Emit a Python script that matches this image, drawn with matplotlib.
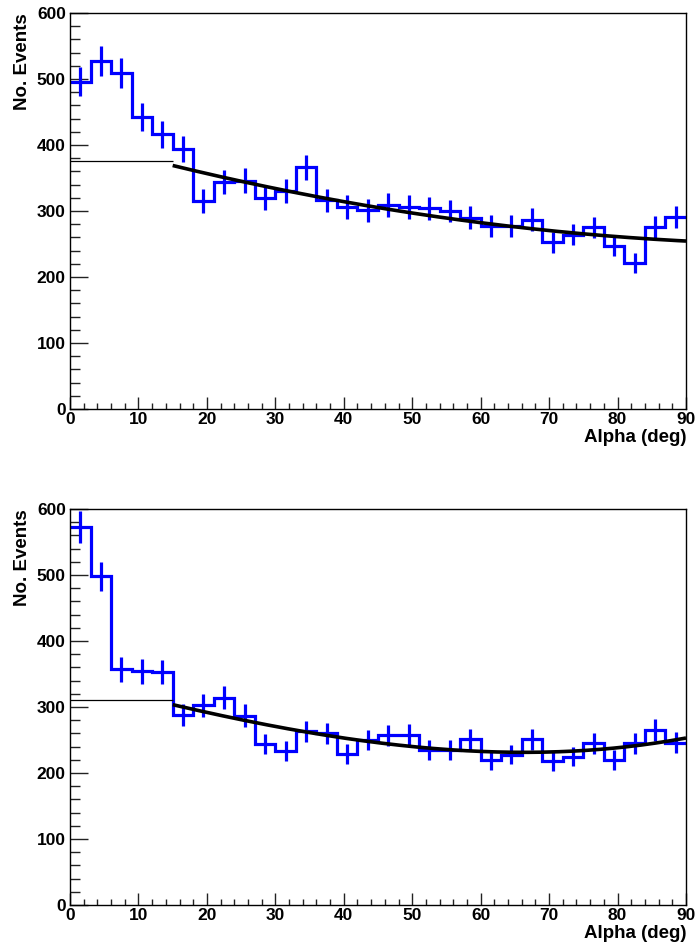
import numpy as np
import matplotlib
matplotlib.use("Agg")
import matplotlib.pyplot as plt
from matplotlib.ticker import MultipleLocator

# Binning: 30 bins of 3 degrees over 0-90
bin_edges = np.arange(0, 91, 3)

# Event counts per alpha bin
top_counts = [496, 527, 509, 443, 416, 394, 315, 344, 346, 320,
              330, 366, 316, 306, 301, 309, 306, 304, 300, 290,
              278, 278, 287, 253, 264, 275, 247, 221, 276, 291]
bottom_counts = [573, 498, 357, 354, 353, 288, 303, 314, 287, 244,
                 233, 263, 260, 229, 250, 257, 258, 235, 235, 251,
                 220, 228, 251, 218, 225, 245, 220, 245, 265, 246]

# Background fit (15-90 deg), sampled along the fitted curve
top_fit_x = [15, 20, 30, 40, 50, 60, 75, 85, 90]
top_fit_y = [367, 359, 334, 314, 299, 279, 266, 259, 253.5]
bottom_fit_x = [15, 20, 25, 30, 35, 40, 45, 55, 63, 72, 79.5, 90]
bottom_fit_y = [302, 292, 282, 272, 263, 253, 243, 234, 231, 234, 240, 251.5]

# Background level extrapolated into the signal region (0-15 deg)
top_flat = 376
bottom_flat = 311
fit_start = 15

plt.rcParams['font.family'] = ['Liberation Sans', 'DejaVu Sans']

fig = plt.figure(figsize=(6.96, 9.47), dpi=100)
W, H = 696.0, 947.0
ax_top = fig.add_axes([70 / W, 1 - 409 / H, 616 / W, 396 / H])
ax_bot = fig.add_axes([70 / W, 1 - 905 / H, 616 / W, 396 / H])

blue = '#0000ff'


def draw_panel(ax, counts, fx, fy, deg, flat):
    counts = np.asarray(counts, dtype=float)
    centers = 0.5 * (bin_edges[:-1] + bin_edges[1:])
    err = np.sqrt(counts)
    ax.stairs(counts, bin_edges, baseline=None, color=blue, lw=2.3)
    ax.vlines(centers, counts - err, counts + err, color=blue, lw=2.3)

    coef = np.polyfit(fx, fy, deg)
    xs = np.linspace(fit_start, 90, 300)
    ax.plot(xs, np.polyval(coef, xs), color='black', lw=2.6, solid_capstyle='butt')
    ax.hlines(flat, 0, fit_start, color='black', lw=0.9)

    ax.set_xlim(0, 90)
    ax.set_ylim(0, 600)
    ax.xaxis.set_major_locator(MultipleLocator(10))
    ax.xaxis.set_minor_locator(MultipleLocator(2))
    ax.yaxis.set_major_locator(MultipleLocator(100))
    ax.yaxis.set_minor_locator(MultipleLocator(20))
    ax.tick_params(axis='both', which='both', direction='in',
                   top=False, right=False, width=1.0, color='#222222')
    ax.tick_params(axis='y', which='major', length=13, pad=3)
    ax.tick_params(axis='y', which='minor', length=7)
    ax.tick_params(axis='x', which='major', length=8.5, pad=2)
    ax.tick_params(axis='x', which='minor', length=4.3)
    for lab in ax.get_xticklabels() + ax.get_yticklabels():
        lab.set_fontweight('bold')
        lab.set_fontsize(12.5)
    for sp in ax.spines.values():
        sp.set_linewidth(1.0)

    ax.set_ylabel('No. Events', fontsize=13.5, fontweight='bold', loc='top')
    ax.yaxis.set_label_coords(-0.063, 1.0)
    ax.set_xlabel('Alpha (deg)', fontsize=13.5, fontweight='bold', loc='right')
    ax.xaxis.set_label_coords(1.0, -0.05)


draw_panel(ax_top, top_counts, top_fit_x, top_fit_y, 2, top_flat)
draw_panel(ax_bot, bottom_counts, bottom_fit_x, bottom_fit_y, 3, bottom_flat)

fig.savefig('out.png', dpi=100)
